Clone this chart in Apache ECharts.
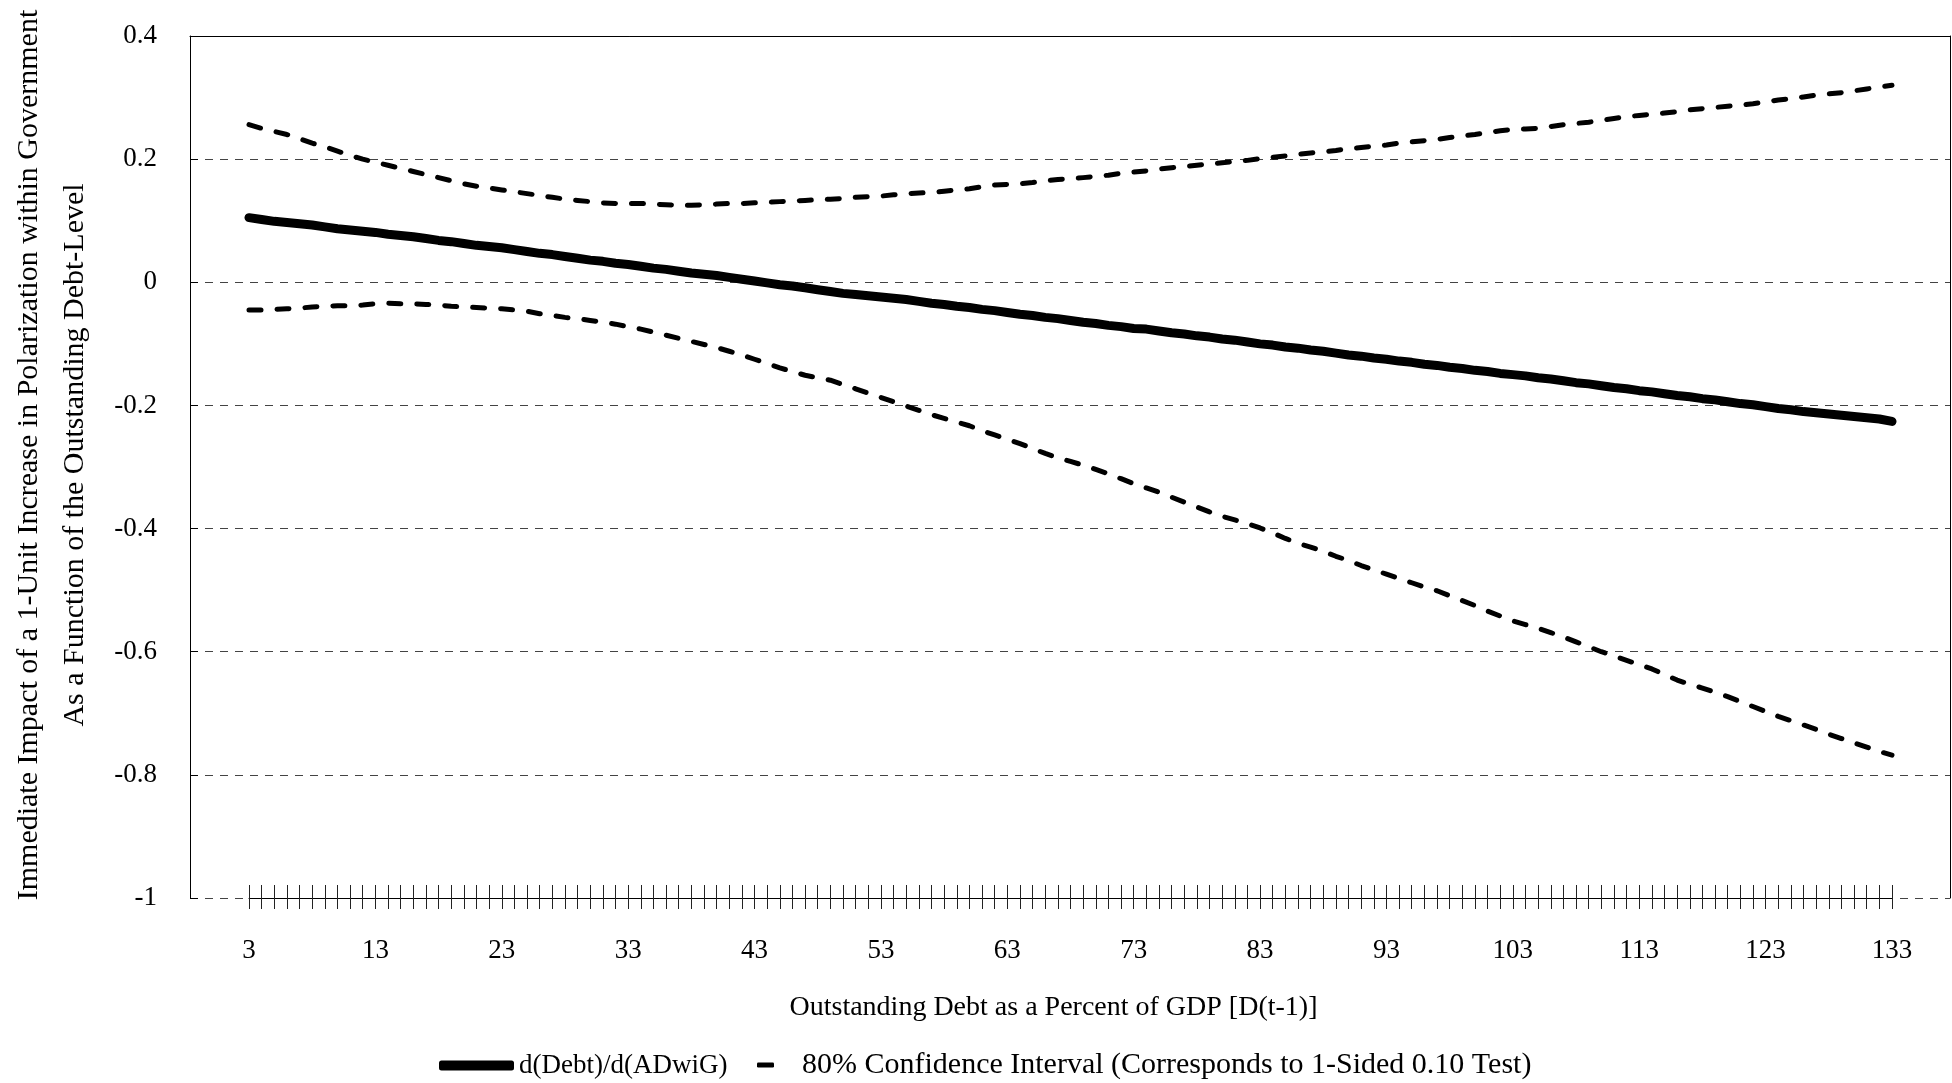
<!DOCTYPE html>
<html>
<head>
<meta charset="utf-8">
<script src="https://cdn.jsdelivr.net/npm/echarts@6/dist/echarts.min.js"></script>
<style>
html, body { margin: 0; padding: 0; background: #fff; }
#chart { width: 1952px; height: 1083px; }
</style>
</head>
<body>
<div id="chart"></div>
<script>
// x: outstanding debt (% of GDP), one category per point
var debtLevels = [];
for (var d = 3; d <= 133; d++) debtLevels.push(String(d));

// marginal effect d(Debt)/d(ADwiG)
var effect = [
  0.105, 0.102, 0.099, 0.097, 0.095, 0.093, 0.090, 0.087, 0.085, 0.083,
  0.081, 0.078, 0.076, 0.074, 0.071, 0.068, 0.066, 0.063, 0.060, 0.058,
  0.056, 0.053, 0.050, 0.047, 0.045, 0.042, 0.039, 0.036, 0.034, 0.031,
  0.029, 0.026, 0.023, 0.021, 0.018, 0.015, 0.013, 0.011, 0.008, 0.005,
  0.002, -0.001, -0.004, -0.006, -0.009, -0.012, -0.015, -0.018, -0.020, -0.022,
  -0.024, -0.026, -0.028, -0.031, -0.034, -0.036, -0.039, -0.041, -0.044, -0.046,
  -0.049, -0.052, -0.054, -0.057, -0.059, -0.062, -0.065, -0.067, -0.070, -0.072,
  -0.075, -0.076, -0.079, -0.082, -0.084, -0.087, -0.089, -0.092, -0.094, -0.097,
  -0.100, -0.102, -0.105, -0.107, -0.110, -0.112, -0.115, -0.118, -0.120, -0.123,
  -0.125, -0.128, -0.130, -0.133, -0.135, -0.138, -0.140, -0.143, -0.145, -0.148,
  -0.150, -0.152, -0.155, -0.157, -0.160, -0.163, -0.165, -0.168, -0.171, -0.173,
  -0.176, -0.178, -0.181, -0.184, -0.186, -0.189, -0.191, -0.194, -0.197, -0.199,
  -0.202, -0.205, -0.207, -0.210, -0.212, -0.214, -0.216, -0.218, -0.220, -0.222,
  -0.226
];

// 80% confidence interval, upper bound
var upperCI = [
  0.256, 0.250, 0.245, 0.240, 0.233, 0.226, 0.220, 0.213, 0.206, 0.200,
  0.195, 0.190, 0.185, 0.180, 0.175, 0.170, 0.165, 0.160, 0.156, 0.153,
  0.150, 0.147, 0.144, 0.141, 0.138, 0.135, 0.133, 0.131, 0.129, 0.128,
  0.128, 0.128, 0.127, 0.126, 0.125, 0.125, 0.126, 0.127, 0.128, 0.128,
  0.129, 0.130, 0.131, 0.132, 0.133, 0.134, 0.135, 0.136, 0.138, 0.139,
  0.140, 0.142, 0.144, 0.145, 0.146, 0.148, 0.150, 0.152, 0.155, 0.158,
  0.159, 0.160, 0.162, 0.165, 0.167, 0.168, 0.170, 0.172, 0.174, 0.177,
  0.179, 0.181, 0.184, 0.186, 0.188, 0.190, 0.192, 0.194, 0.196, 0.198,
  0.201, 0.203, 0.205, 0.208, 0.210, 0.212, 0.214, 0.217, 0.219, 0.221,
  0.223, 0.226, 0.228, 0.230, 0.232, 0.235, 0.238, 0.240, 0.243, 0.246,
  0.248, 0.249, 0.250, 0.253, 0.256, 0.258, 0.260, 0.263, 0.266, 0.269,
  0.271, 0.273, 0.275, 0.277, 0.280, 0.282, 0.284, 0.286, 0.288, 0.290,
  0.293, 0.296, 0.298, 0.301, 0.304, 0.306, 0.308, 0.311, 0.314, 0.317,
  0.320
];

// 80% confidence interval, lower bound
var lowerCI = [
  -0.045, -0.045, -0.044, -0.043, -0.042, -0.040, -0.039, -0.038, -0.038, -0.037,
  -0.035, -0.034, -0.035, -0.035, -0.036, -0.037, -0.039, -0.040, -0.041, -0.042,
  -0.043, -0.045, -0.047, -0.051, -0.054, -0.057, -0.059, -0.062, -0.065, -0.068,
  -0.072, -0.076, -0.081, -0.086, -0.091, -0.096, -0.101, -0.106, -0.112, -0.118,
  -0.125, -0.132, -0.139, -0.145, -0.151, -0.155, -0.159, -0.166, -0.173, -0.180,
  -0.187, -0.194, -0.201, -0.208, -0.215, -0.221, -0.227, -0.233, -0.241, -0.248,
  -0.255, -0.262, -0.270, -0.278, -0.285, -0.291, -0.297, -0.304, -0.311, -0.319,
  -0.327, -0.334, -0.341, -0.349, -0.357, -0.365, -0.373, -0.380, -0.386, -0.392,
  -0.399, -0.407, -0.416, -0.424, -0.430, -0.437, -0.445, -0.452, -0.460, -0.467,
  -0.474, -0.481, -0.488, -0.495, -0.501, -0.509, -0.517, -0.525, -0.534, -0.542,
  -0.550, -0.556, -0.562, -0.569, -0.576, -0.584, -0.592, -0.600, -0.607, -0.614,
  -0.621, -0.628, -0.637, -0.646, -0.653, -0.659, -0.666, -0.673, -0.681, -0.689,
  -0.697, -0.705, -0.712, -0.719, -0.726, -0.734, -0.741, -0.748, -0.755, -0.762,
  -0.768
];

var yMin = -1, yMax = 0.4, yStep = 0.2;

var nameEffect = 'd(Debt)/d(ADwiG)';
var nameCI = '80% Confidence Interval (Corresponds to 1-Sided 0.10 Test)';
var serif = '"Liberation Serif", "Times New Roman", serif';

var myChart = echarts.init(document.getElementById('chart'));

myChart.setOption({
  backgroundColor: '#fff',
  animation: false,
  grid: [
    // frame + y axis
    { left: 190, right: 2, top: 36, bottom: 185, outerBoundsMode: 'none', containLabel: false },
    // category axis and lines
    { left: 249, right: 60, top: 36, bottom: 185, outerBoundsMode: 'none', containLabel: false },
    // same, only for the ticks above the axis line
    { left: 249, right: 60, top: 36, bottom: 185, outerBoundsMode: 'none', containLabel: false }
  ],
  legend: [
    {
      data: [nameEffect],
      left: 434,
      top: 1047,
      icon: 'roundRect',
      itemWidth: 75,
      itemHeight: 10,
      itemStyle: { color: '#000', borderWidth: 0 },
      textStyle: { fontFamily: serif, fontSize: 27, color: '#000' }
    },
    {
      data: [nameCI],
      left: 752,
      top: 1045,
      icon: 'roundRect',
      itemWidth: 17,
      itemHeight: 5,
      itemStyle: { color: '#000', borderWidth: 0 },
      textStyle: { fontFamily: serif, fontSize: 30, color: '#000', padding: [0, 0, 0, 23] }
    }
  ],
  xAxis: [
    {
      gridIndex: 0,
      type: 'value',
      position: 'top',
      min: 0,
      max: 1,
      axisLine: { show: true, onZero: false, lineStyle: { color: '#000', width: 1 } },
      axisTick: { show: false },
      axisLabel: { show: false },
      splitLine: { show: false }
    },
    {
      gridIndex: 1,
      type: 'category',
      position: 'bottom',
      data: debtLevels,
      boundaryGap: false,
      name: 'Outstanding Debt as a Percent of GDP [D(t-1)]',
      nameLocation: 'middle',
      nameGap: 96,
      nameTextStyle: { fontFamily: serif, fontSize: 28, color: '#000', padding: [0, 34, 0, 0] },
      axisLine: { show: true, onZero: false, lineStyle: { color: '#000', width: 1 } },
      axisTick: { show: true, interval: 0, length: 11, lineStyle: { color: '#222' } },
      axisLabel: { interval: 9, margin: 39, fontFamily: serif, fontSize: 27, color: '#000' },
      splitLine: { show: false }
    },
    {
      gridIndex: 2,
      type: 'category',
      position: 'bottom',
      data: debtLevels,
      boundaryGap: false,
      axisLine: { show: false, onZero: false },
      axisTick: { show: true, inside: true, interval: 0, length: 13, lineStyle: { color: '#222' } },
      axisLabel: { show: false },
      splitLine: { show: false }
    }
  ],
  yAxis: [
    {
      gridIndex: 0,
      type: 'value',
      min: yMin,
      max: yMax,
      interval: yStep,
      name: 'Immediate Impact of a 1-Unit Increase in Polarization within Government\nAs a Function of the Outstanding Debt-Level',
      nameLocation: 'middle',
      nameGap: 92,
      nameTextStyle: { fontFamily: serif, fontSize: 30, lineHeight: 46, color: '#000', align: 'center', padding: [0, 0, 0, 24] },
      axisLine: { show: true, onZero: false, lineStyle: { color: '#000', width: 1 } },
      axisTick: { show: true, inside: true, length: 8, lineStyle: { color: '#000' } },
      axisLabel: {
        margin: 33,
        fontFamily: serif,
        fontSize: 27,
        color: '#000',
        formatter: function (v) { return String(Math.round(v * 10) / 10); }
      },
      splitLine: { show: true, lineStyle: { color: '#444', width: 1, type: [8, 7] } }
    },
    {
      gridIndex: 0,
      type: 'value',
      position: 'right',
      min: yMin,
      max: yMax,
      axisLine: { show: true, onZero: false, lineStyle: { color: '#000', width: 1 } },
      axisTick: { show: false },
      axisLabel: { show: false },
      splitLine: { show: false }
    },
    { gridIndex: 1, type: 'value', min: yMin, max: yMax, show: false },
    { gridIndex: 2, type: 'value', min: yMin, max: yMax, show: false }
  ],
  series: [
    {
      name: nameEffect,
      type: 'line',
      xAxisIndex: 1,
      yAxisIndex: 2,
      data: effect,
      symbol: 'none',
      itemStyle: { color: '#000' },
      lineStyle: { color: '#000', width: 9, cap: 'round', join: 'round' },
      z: 5
    },
    {
      name: nameCI,
      type: 'line',
      xAxisIndex: 1,
      yAxisIndex: 2,
      data: upperCI,
      symbol: 'none',
      itemStyle: { color: '#000' },
      lineStyle: { color: '#000', width: 5, type: [12, 16], cap: 'round', join: 'round' },
      z: 4
    },
    {
      name: nameCI,
      type: 'line',
      xAxisIndex: 1,
      yAxisIndex: 2,
      data: lowerCI,
      symbol: 'none',
      itemStyle: { color: '#000' },
      lineStyle: { color: '#000', width: 5, type: [12, 16], cap: 'round', join: 'round' },
      z: 4
    }
  ]
});
</script>
</body>
</html>
